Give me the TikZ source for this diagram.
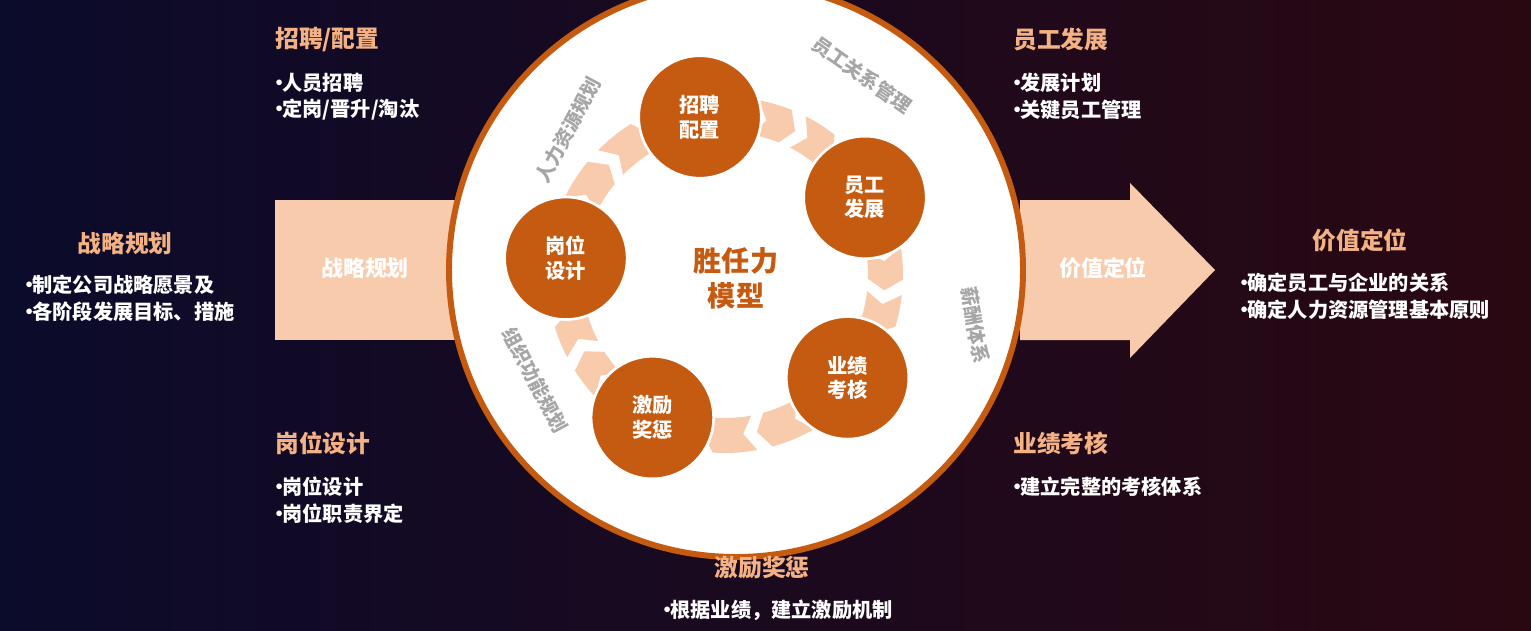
\documentclass[tikz,border=0pt]{standalone}
\usepackage{fontspec}
\setmainfont{Noto Sans CJK SC}
\usetikzlibrary{positioning,calc}
\definecolor{deeporange}{HTML}{C55A11}
\definecolor{peach}{HTML}{F8CBAD}
\definecolor{headorange}{HTML}{F4B183}
\definecolor{bgleft}{HTML}{0B0B2B}
\definecolor{bgright}{HTML}{2A0812}
\newcommand{\bul}{\makebox[0.35em][l]{\kern-0.3em•}}

\begin{document}
\begin{tikzpicture}[x=0.02cm,y=0.02cm,
    head/.style ={
        text=headorange,
        font=\fontsize{13.5}{15}\selectfont\bfseries,
        inner sep=0pt
    },
    item/.style ={
        text=white,
        font=\fontsize{11.5}{13}\selectfont\bfseries,
        anchor=west,
        inner sep=0pt
    },
    stage/.style ={
        circle,
        minimum size=2.45cm,
        inner sep=0pt,
        fill=deeporange,
        draw=white,
        line width=1.5pt,
        text=white,
        align=center,
        font=\fontsize{11.5}{14}\selectfont\bfseries
    },
    ringlabel/.style ={
        text=gray!70,
        font=\fontsize{11}{13}\selectfont\bfseries
    }
    ]
    \useasboundingbox[left color=bgleft,right color=bgright] (0,0) rectangle (1531,630);

    % side arrows
    \fill[peach] (275,290) rectangle (455,430);
    \fill[peach] (1020,290) -- (1130,290) -- (1130,272) -- (1215,360) -- (1130,447) -- (1130,430) -- (1020,430) -- cycle;
    \node[text=white,font=\fontsize{12.5}{14}\selectfont\bfseries] (leftarrow) at (365,362) {战略规划};
    \node[text=white,font=\fontsize{12.5}{14}\selectfont\bfseries] (rightarrow) at (1103,362) {价值定位};

    % model circle
    \draw[deeporange,fill=white,line width=3.4pt] (736,360) circle (287);

    % ring pieces
    \foreach \a/ \b in {99/29, 29/-40, -40/-117, -117/-186, 174/99} {
        \pgfmathsetmacro\s{\a-19}
        \pgfmathsetmacro\e{\b+19}
        \pgfmathsetmacro\m{(\s+\e)/2}
        \foreach \p/ \q in {\s/\m, \m/\e} {
            \pgfmathsetmacro\pp{\p-1}
            \pgfmathsetmacro\qq{\q+4}
            \pgfmathsetmacro\nn{\p-5}
            \fill[peach,shift={(725,355)}] (\pp:178) arc (\pp:\qq:178) -- (\q:160) -- (\qq:143) arc (\qq:\pp:143) -- (\nn:160) -- cycle;
        }
    }

    \node[stage] (zhaopin) at ($(725,355)+(99:160)$) {招聘\\配置};
    \node[stage] (fazhan) at ($(725,355)+(29:160)$) {员工\\发展};
    \node[stage] (kaohe) at ($(725,355)+(-40:160)$) {业绩\\考核};
    \node[stage] (jili) at ($(725,355)+(-117:160)$) {激励\\奖惩};
    \node[stage] (gangwei) at ($(725,355)+(174:160)$) {岗位\\设计};

    \node[text=deeporange,align=center,font=\fontsize{16}{20}\selectfont\bfseries] (model) at (736,352) {胜任力\\模型};

    \node[ringlabel,rotate=62] (rl1) at (568,500) {人力资源规划};
    \node[ringlabel,rotate=-35] (rl2) at (862,555) {员工关系管理};
    \node[ringlabel,rotate=-80] (rl3) at (975,305) {薪酬体系};
    \node[ringlabel,rotate=-62] (rl4) at (535,250) {组织功能规划};

    % descriptions
    \node[head,anchor=west] (h1) at (275,590) {招聘/配置};
    \node[item] at (275,547) {\bul 人员招聘};
    \node[item] at (275,520) {\bul 定岗/晋升/淘汰};
    \node[head,anchor=west] (h2) at (1013,590) {员工发展};
    \node[item] at (1013,547) {\bul 发展计划};
    \node[item] at (1013,520) {\bul 关键员工管理};
    \node[head] (h3) at (125,387) {战略规划};
    \node[item] at (25,345) {\bul 制定公司战略愿景及};
    \node[item] at (25,318) {\bul 各阶段发展目标、措施};
    \node[head] (h4) at (1360,390) {价值定位};
    \node[item] at (1240,347) {\bul 确定员工与企业的关系};
    \node[item] at (1240,320) {\bul 确定人力资源管理基本原则};
    \node[head,anchor=west] (h5) at (275,187) {岗位设计};
    \node[item] at (275,143) {\bul 岗位设计};
    \node[item] at (275,116) {\bul 岗位职责界定};
    \node[head,anchor=west] (h6) at (1013,187) {业绩考核};
    \node[item] at (1013,143) {\bul 建立完整的考核体系};
    \node[head] (h7) at (762,62) {激励奖惩};
    \node[item,anchor=center] at (778,20) {\bul 根据业绩，建立激励机制};
\end{tikzpicture}
\end{document}
